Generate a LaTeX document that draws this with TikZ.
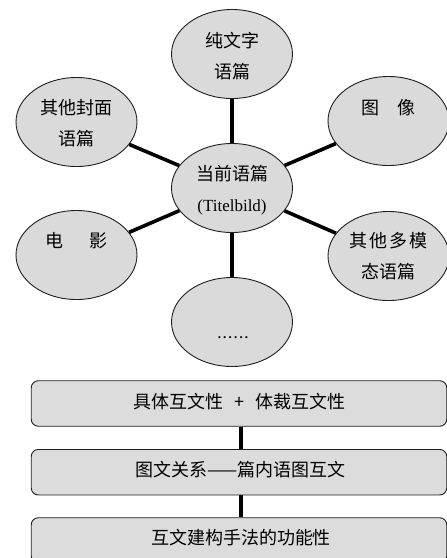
\documentclass[tikz,border=0pt]{standalone}
\usepackage{fontspec}
\setmainfont{Liberation Serif}
\newfontfamily\cjk{Noto Sans CJK SC}
\usetikzlibrary{shapes.geometric}
\definecolor{fillgray}{HTML}{DADADA}
\definecolor{boxgray}{HTML}{DCDCDC}
\definecolor{edgegray}{HTML}{1E1E1E}
\tikzset{
  bubble/.style={ellipse, draw=edgegray, line width=0.9pt, fill=fillgray,
    minimum width=121pt, minimum height=89pt, inner sep=0pt},
  txt/.style={align=center, inner sep=0pt, font=\cjk\fontsize{18}{31}\selectfont},
  bar/.style={rounded corners=7pt, draw=edgegray, line width=0.9pt, fill=boxgray},
  link/.style={line width=3.6pt, black},
}
\begin{document}
\begin{tikzpicture}[x=1pt,y=-1pt]
\useasboundingbox (0,0) rectangle (447,558);
% ellipses
\node[bubble] (top) at (232,54) {};
\node[bubble] (lu) at (76.5,122) {};
\node[bubble] (ru) at (388.5,121) {};
\node[bubble] (c) at (232,188) {};
\node[bubble] (ll) at (76.5,255) {};
\node[bubble] (rl) at (388.5,256) {};
\node[bubble] (bot) at (232,322) {};
% connectors
\draw[link] (c) -- (top);
\draw[link] (c) -- (lu);
\draw[link] (c) -- (ru);
\draw[link] (c) -- (ll);
\draw[link] (c) -- (rl);
\draw[link] (c) -- (bot);
% texts
\node[txt] (ttop) at (232,56) {纯文字\\语篇};
\node[txt] (tlu) at (76.5,123.5) {其他封面\\语篇};
\node[txt] (tru) at (388.5,107.5) {图\hspace{1em}像};
\node[txt] (tc) at (232,190.5) {当前语篇\\{\rmfamily\fontsize{17}{31}\selectfont (Titelbild)}};
\node[txt] (tll) at (76.5,240.5) {电\hspace{1.4em}影};
\node[txt] (trl) at (388.5,256.5) {其\hspace{0.1em}他\hspace{0.1em}多\hspace{0.1em}模\\态语篇};
\node[txt, font=\rmfamily\bfseries\fontsize{13}{16}\selectfont] (tbot) at (233,338) {.\hspace{2.2pt}.\hspace{2.2pt}.\hspace{2.2pt}.\hspace{2.2pt}.\hspace{2.2pt}.};
% boxes
\node[bar, minimum width=415.5pt, minimum height=45.5pt] (b1) at (239,403.5) {};
\node[bar, minimum width=415.5pt, minimum height=45.5pt] (b2) at (239,472.2) {};
\node[bar, minimum width=415.5pt, minimum height=45.5pt] (b3) at (239,540.5) {};
\draw[link] ([xshift=2pt]b1.south) -- ([xshift=2pt]b2.north);
\draw[link] ([xshift=2pt]b2.south) -- ([xshift=2pt]b3.north);
\node[txt] (tb1) at (239.5,402) {具体互文性\hspace{0.6em}+\hspace{0.6em}体裁互文性};
\node[txt] (tb2) at (240.5,470) {图文关系——篇内语图互文};
\node[txt] (tb3) at (241,538) {互文建构手法的功能性};
\end{tikzpicture}
\end{document}
